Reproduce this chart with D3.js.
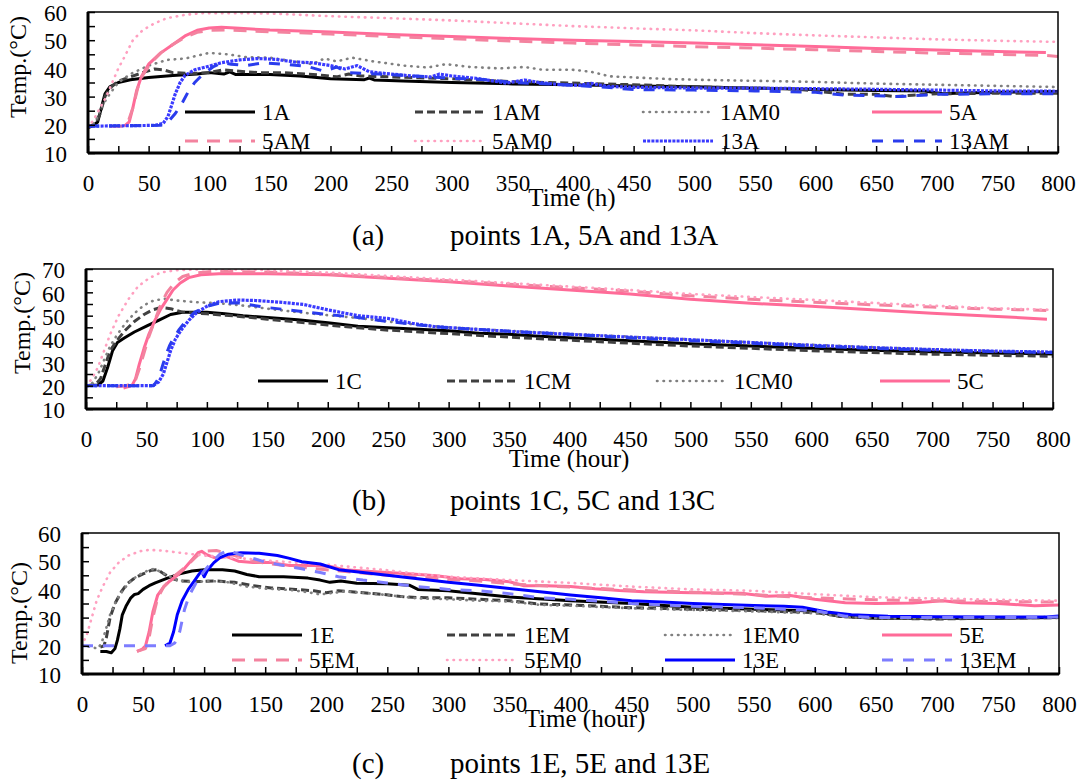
<!DOCTYPE html>
<html>
<head>
<meta charset="utf-8">
<script src="https://cdn.jsdelivr.net/npm/d3@7"></script>
<style>
  body { margin:0; background:#fff; }
  text { font-family: "Liberation Serif", "Times New Roman", serif; fill:#000; }
</style>
</head>
<body>
<svg id="chart" width="1080" height="782"></svg>
<script>
// ---- data: [time (h), temperature (°C)] ----
var A_1A = [[0,19],[5,20],[8,21],[11,26],[14,31],[18,33.5],[25,35],[35,36],[50,36.8],[70,37.5],[90,38],[100,38.5],[112,38],[117,38.8],[122,37.8],[150,37.8],[175,37.3],[200,36.3],[228,36],[232,36.6],[236,35.9],[260,35.5],[300,35],[350,34.5],[400,34.2],[450,33.8],[500,33.5],[550,33],[600,32.5],[650,32.2],[690,32],[705,31],[720,31.3],[750,31.5],[800,31.8]];
var A_1AM = [[0,19],[6,20],[10,24],[14,30],[18,33],[25,35.5],[35,37],[45,38.5],[55,39.8],[62,39.5],[70,38.5],[85,38.2],[100,38.5],[112,39.5],[125,39],[140,38.5],[160,38.5],[180,38],[195,37.5],[205,37],[215,38],[225,37.3],[250,37],[300,36.3],[350,35.3],[400,34.8],[450,34.2],[500,33.5],[550,33],[580,32.8],[600,32],[625,30.8],[650,30.8],[665,30],[680,30.5],[700,31],[750,31.2],[800,31.2]];
var A_1AM0 = [[0,19],[6,21],[12,27],[18,31],[25,35],[35,38],[50,41],[65,43],[80,43.5],[90,44.5],[100,45.5],[115,45],[130,44],[150,43.8],[170,42.5],[185,41.5],[195,43.5],[205,42.5],[218,43.8],[235,42.5],[260,41],[280,40.3],[295,41.5],[315,40.5],[340,40],[360,40.5],[375,39.5],[400,39.5],[415,38.8],[430,37.2],[450,36.8],[480,36.2],[510,35.9],[550,35.6],[600,35.2],[650,34.6],[700,34.2],[750,33.8],[800,33.4]];
var A_5A = [[30,19.5],[34,21],[37,26],[40,32],[44,37],[50,41.5],[60,45.5],[70,48.5],[80,51.5],[90,53.5],[100,54.3],[110,54.6],[125,54.2],[150,53.6],[200,52.9],[250,52],[300,51.3],[350,50.6],[400,50],[450,49.5],[500,49],[550,48.4],[600,47.8],[650,47.1],[700,46.5],[750,46],[790,45.6]];
var A_5AM = [[18,19.5],[28,19.5],[33,21],[37,26],[41,33],[45,37.5],[52,42],[60,45.5],[70,48.5],[80,51],[90,52.8],[100,53.5],[115,53.6],[150,53],[200,52.2],[250,51.3],[300,50.5],[350,49.7],[400,49],[450,48.3],[500,47.7],[550,47.2],[600,46.6],[650,46],[700,45.4],[750,45],[790,44.6],[800,44.2]];
var A_5AM0 = [[0,19],[5,22],[10,26],[15,30],[20,35],[25,40],[30,44],[37,50],[45,53.5],[55,56],[65,57.8],[80,59],[95,59.6],[150,59.5],[200,58.5],[250,57.8],[300,57],[350,56],[400,55],[450,54.2],[500,53.5],[550,52.5],[600,51.7],[650,51],[700,50.3],[750,49.8],[800,49.4]];
var A_13A = [[0,19.5],[55,19.8],[62,20.5],[66,23],[69,27],[72,31],[76,35],[80,37.5],[88,39.5],[100,40.8],[110,42],[125,43],[140,43.5],[155,43.2],[170,42.3],[185,42],[200,41],[212,39.8],[222,41],[232,38.8],[250,38],[270,37.2],[283,37],[290,38],[300,37.3],[320,36.5],[345,34.8],[360,35.9],[372,35],[390,34.2],[405,34],[415,34.7],[428,33.6],[450,33.3],[500,33],[550,33],[600,32.8],[650,32.6],[700,32.3],[750,32],[800,31.9]];
var A_13AM = [[0,19.5],[60,19.8],[66,21],[72,24],[78,28],[83,32],[88,35],[95,38],[103,40.5],[110,42],[118,41.5],[130,41],[145,42],[160,41.5],[180,40.8],[195,39],[205,40.5],[215,38.5],[240,38],[270,37.3],[300,36.5],[330,36],[350,35],[380,34.5],[400,34],[430,33.2],[450,32.5],[500,32.3],[550,32],[600,31.5],[625,30.5],[650,30.3],[670,30],[700,30.8],[750,31],[800,31]];

var B_1C = [[0,20],[10,20.3],[14,22],[18,28],[22,35],[26,38.5],[32,40.5],[40,43],[50,45.5],[60,48],[70,50.5],[80,51.5],[100,51.5],[115,50.8],[130,50],[150,49.2],[175,48.3],[200,47],[225,45.5],[250,44.8],[275,44.2],[300,43.5],[325,42.5],[350,42],[375,41.2],[400,40.5],[450,39.2],[500,38],[550,37],[600,36],[650,35.2],[700,34.5],[750,34],[800,33.6]];
var B_1CM = [[0,20],[8,20.5],[12,23],[16,29],[20,35],[25,39],[32,43.5],[40,47.5],[48,50.5],[55,52.5],[62,53.5],[70,53],[80,51.5],[100,50.8],[125,49.8],[150,48.5],[175,47.3],[200,46],[225,44.8],[250,43.8],[300,42.3],[350,40.8],[400,39.5],[450,38.2],[500,37],[550,36],[600,35],[650,34.2],[700,33.5],[750,33],[800,32.6]];
var B_1CM0 = [[0,20],[5,21],[10,25],[15,31],[20,37],[26,42],[33,47],[40,51],[48,54.5],[56,56.5],[65,57.2],[75,56.5],[90,55.8],[110,55.3],[130,54.3],[150,53],[175,51.5],[200,50.2],[225,49],[250,47.5],[275,46],[300,45],[350,43.5],[400,42.2],[450,41],[500,39.8],[550,38.6],[600,37.5],[650,36.5],[700,35.5],[750,34.8],[800,34.2]];
var B_5C = [[31,19],[38,20],[41,23],[44,29],[48,36],[52,42],[57,48],[62,53],[67,57],[72,61],[78,64],[85,66.3],[95,67.5],[110,68],[150,68],[200,67.5],[250,66],[300,64.5],[350,62.7],[400,61],[450,59.3],[500,57],[550,55.3],[600,54],[650,52.5],[700,51],[750,49.8],[795,48.5]];
var B_5CM = [[25,19.5],[33,20],[40,21],[44,27],[48,34],[52,41],[57,48],[62,55],[67,60],[73,64],[80,66.8],[90,68.3],[105,69],[150,68.7],[200,67.8],[250,66.3],[300,65],[350,63.5],[400,62],[450,60.5],[500,58.5],[550,57],[600,55.8],[650,54.7],[700,53.7],[750,52.8],[800,52.2]];
var B_5CM0 = [[0,20],[5,23],[10,28],[15,35],[20,42],[27,50],[35,57],[43,62.5],[52,66],[62,68.5],[75,69.5],[100,70],[150,69.5],[200,68.5],[250,67],[300,65.5],[350,64],[400,62.5],[450,61],[500,59.3],[550,58],[600,56.8],[650,55.5],[700,54.3],[750,53.2],[800,52.5]];
var B_13C = [[0,20],[55,20],[60,21.5],[64,25],[67,30],[70,35],[74,40],[79,44],[85,48],[92,51.5],[100,54],[110,56],[125,56.7],[140,56.5],[160,55.8],[180,54.8],[200,52.5],[225,50],[250,48.8],[270,46.7],[290,45.2],[320,44.2],[360,43],[400,42],[450,40.8],[500,39.7],[550,38.5],[600,37.3],[650,36.3],[700,35.5],[750,34.8],[800,34.4]];
var B_13CM = [[0,20],[56,20],[60,23],[63,28],[66,33],[69,37],[72,40],[77,44],[83,48],[90,51.5],[100,54],[110,55.3],[125,55.5],[150,53.5],[175,52],[200,50.5],[225,49.2],[250,47.5],[275,46],[300,44.8],[350,43.3],[400,42],[450,40.5],[500,39.3],[550,38.2],[600,37],[650,36],[700,35.2],[750,34.6],[800,34.2]];

var C_1E = [[15,18],[20,18],[24,17.5],[27,19],[29,22],[31,26],[33,31],[36,34],[40,37],[43,38.2],[46,38.5],[50,40],[55,41.3],[60,42.3],[70,44],[80,45.5],[90,46.5],[100,47],[115,47],[125,46.5],[135,45.3],[145,44.5],[165,44.5],[185,44],[195,43.3],[203,42.5],[212,43],[225,42.2],[250,42],[268,41.5],[275,40],[300,39.5],[350,37.3],[400,36],[450,35],[500,33.7],[550,33],[600,32.3],[620,30.5],[650,29.8],[700,29.8],[750,29.8],[800,30]];
var C_1EM = [[15,19.5],[18,20],[20,23],[23,30],[27,35],[32,39],[37,42],[43,44],[50,45.5],[57,46.8],[62,47],[67,45.5],[73,44],[80,43],[95,42.8],[110,43],[125,42.5],[140,41.3],[155,40.5],[175,40],[190,39.5],[200,38.8],[210,39.5],[225,39],[245,38.3],[265,37.3],[285,37],[300,37],[325,36.5],[350,36],[375,34.8],[400,34.5],[450,33.5],[500,33],[550,32.5],[600,31.8],[625,30.3],[650,29.8],[700,29.5],[750,29.8],[800,30]];
var C_1EM0 = [[0,20],[8,19.5],[13,19],[16,21],[19,25],[23,31],[28,36],[34,40],[40,43],[46,45],[53,46.5],[59,47.3],[63,46.5],[70,45],[78,43.3],[90,42.5],[105,43],[120,42.5],[135,41],[150,40.3],[170,39.8],[185,39],[195,38.2],[205,38.7],[215,39.3],[230,38.8],[250,38],[275,36.8],[300,36.5],[325,36],[350,35.7],[375,34.5],[400,34.2],[450,33.3],[500,32.7],[550,32.2],[600,31.5],[625,30.2],[650,29.8],[700,29.8],[750,30],[800,30.2]];
var C_5E = [[45,18],[49,18.7],[52,20],[55,25],[58,32],[62,38],[67,41],[72,43],[78,45],[83,47],[87,49],[91,51],[95,53],[98,53.5],[102,52.3],[110,51],[118,51.7],[128,50],[140,49.5],[155,49.5],[170,48.5],[190,48.5],[205,48],[215,47],[230,46.5],[250,46],[270,45.5],[290,44.8],[310,43.8],[330,43.5],[350,42.7],[362,41.3],[380,41.3],[400,41],[420,40.2],[440,39.6],[460,39.2],[500,38.8],[540,38.6],[560,37.6],[580,37.8],[600,36.5],[625,35.3],[650,35],[680,35.2],[705,36],[720,35.3],[750,35],[780,34.2],[800,34.5]];
var C_5EM = [[45,18],[52,19],[55,23],[58,30],[62,37],[67,41],[75,44.5],[85,48],[92,51],[98,53.5],[110,53.8],[125,52],[140,50],[155,49],[175,48],[200,47],[225,46],[250,45],[275,44.3],[300,43.5],[325,43],[350,42],[400,40.8],[450,39.8],[500,39],[550,38.2],[575,37.5],[600,37],[650,36.3],[700,36],[750,35.7],[800,35.5]];
var C_5EM0 = [[0,20],[4,24],[8,30],[12,36],[17,41],[23,46],[30,49.5],[38,52],[47,53.5],[55,54],[65,53.8],[80,53],[100,52],[125,51.2],[150,50.3],[175,49.5],[200,48.8],[225,47.8],[250,46.8],[275,45.5],[300,44.5],[350,43.3],[400,42.3],[450,41],[500,40],[550,39.5],[600,38.3],[650,37.2],[700,36.8],[750,36.3],[800,36]];
var C_13E = [[68,20],[72,21],[75,25],[78,31],[82,36],[87,40],[92,43],[96,45.5],[98,46.5],[100,44.5],[103,47],[108,49.5],[113,51.3],[120,52.5],[130,53],[145,52.8],[160,52],[170,51],[180,49.8],[195,49],[210,47],[230,46],[250,45],[275,43.8],[300,42.5],[325,41.5],[350,40.3],[375,39.2],[400,38],[425,37],[450,36],[475,35.5],[500,35],[550,34.3],[575,34],[590,33.7],[610,32],[630,31],[660,30.5],[700,30.3],[750,30.2],[790,30.2],[800,30.6]];
var C_13EM = [[0,20],[72,20],[76,21],[80,25],[84,33],[88,38],[93,42],[100,46.5],[107,50],[113,52.5],[120,54],[128,52.5],[140,51],[150,49.7],[165,48.5],[180,47.3],[195,46],[210,44.5],[230,43.3],[250,42.3],[275,41],[300,40],[325,39.5],[350,38.5],[375,37],[400,36.5],[450,35],[500,34],[550,33.5],[600,32.5],[625,30.5],[650,30],[700,30],[750,30],[800,30.2]];

var xTicks = [0,50,100,150,200,250,300,350,400,450,500,550,600,650,700,750,800];
var captions = [["(a)", "points 1A, 5A and 13A"], ["(b)", "points 1C, 5C and 13C"], ["(c)", "points 1E, 5E and 13E"]];
var xTitles = ["Time (h)", "Time (hour)", "Time (hour)"];

// line styles by role
var styles = {
  s1:   {stroke:'#000000', w:3,   dash:null},
  s1M:  {stroke:'#404040', w:3,   dash:'8,4'},
  s1M0: {stroke:'#808080', w:2.6, dash:'0.5,6', cap:'round'},
  s5:   {stroke:'#ff6b98', w:3,   dash:null},
  s5M:  {stroke:'#f3839f', w:3,   dash:'13,9'},
  s5M0: {stroke:'#ffa0c0', w:2.6, dash:'0.5,6', cap:'round'},
  s13:  {stroke:'#3a3aff', w:3.2, dash:'3,1.2'},
  s13M: {stroke:'#2a3ced', w:3,   dash:'11,10'},
  s13E: {stroke:'#0000ff', w:3,   dash:null},
  s13EM:{stroke:'#7d7dff', w:3,   dash:'11,10'}
};

var panels = [
  {box:{l:88,t:12,r:1058,b:153}, ydom:[10,60], ylab:{x:26,y:67}, xt:{x:572,y:206}, cap:245,
   series:[['1A',A_1A,'s1'],['1AM',A_1AM,'s1M'],['1AM0',A_1AM0,'s1M0'],['5A',A_5A,'s5'],['5AM',A_5AM,'s5M'],['5AM0',A_5AM0,'s5M0'],['13A',A_13A,'s13'],['13AM',A_13AM,'s13M']],
   legend:{cols:[185,415,643,872], rows:[112,141], names:['1A','1AM','1AM0','5A','5AM','5AM0','13A','13AM']}},
  {box:{l:86,t:269,r:1053,b:409}, ydom:[10,70], ylab:{x:30,y:323}, xt:{x:569,y:467}, cap:510,
   series:[['1C',B_1C,'s1'],['1CM',B_1CM,'s1M'],['1CM0',B_1CM0,'s1M0'],['5C',B_5C,'s5'],['5CM',B_5CM,'s5M'],['5CM0',B_5CM0,'s5M0'],['13C',B_13C,'s13'],['13CM',B_13CM,'s13M']],
   legend:{cols:[258,447,657,880], rows:[381], names:['1C','1CM','1CM0','5C']}},
  {box:{l:82,t:533,r:1059,b:674}, ydom:[10,60], ylab:{x:27,y:613}, xt:{x:585,y:727}, cap:773,
   series:[['1E',C_1E,'s1'],['1EM',C_1EM,'s1M'],['1EM0',C_1EM0,'s1M0'],['5E',C_5E,'s5'],['5EM',C_5EM,'s5M'],['5EM0',C_5EM0,'s5M0'],['13E',C_13E,'s13E'],['13EM',C_13EM,'s13EM']],
   legend:{cols:[232,447,665,882], rows:[635,660], names:['1E','1EM','1EM0','5E','5EM','5EM0','13E','13EM']}}
];

var svg = d3.select('#chart');

function applyStyle(sel, st) {
  sel.attr('fill','none')
     .attr('stroke', st.stroke)
     .attr('stroke-width', st.w)
     .attr('stroke-linecap', st.cap || 'butt')
     .attr('stroke-linejoin','round');
  if (st.dash) sel.attr('stroke-dasharray', st.dash);
}

panels.forEach(function(p, i) {
  var b = p.box;
  var x = d3.scaleLinear().domain([0,800]).range([b.l, b.r]);
  var y = d3.scaleLinear().domain(p.ydom).range([b.b, b.t]);
  var g = svg.append('g');

  g.append('clipPath').attr('id','clip'+i)
    .append('rect').attr('x',b.l).attr('y',b.t).attr('width',b.r-b.l).attr('height',b.b-b.t);

  var line = d3.line().x(function(d){return x(d[0]);}).y(function(d){return y(d[1]);});

  var lines = g.append('g').attr('clip-path','url(#clip'+i+')');
  p.series.forEach(function(s) {
    applyStyle(lines.append('path').datum(s[1]).attr('d', line), styles[s[2]]);
  });

  // frame
  g.append('rect').attr('x',b.l).attr('y',b.t).attr('width',b.r-b.l).attr('height',b.b-b.t)
    .attr('fill','none').attr('stroke','#000').attr('stroke-width',1.5);

  // x axis: labels every 50, inward ticks every 25
  var minorX = d3.range(0, 801, 25);
  var gx = g.append('g').attr('transform','translate(0,'+b.b+')')
    .call(d3.axisBottom(x).tickValues(minorX).tickSize(-7).tickPadding(22)
      .tickFormat(function(d){ return xTicks.indexOf(d) >= 0 ? d : ''; }));
  gx.selectAll('.tick line').attr('stroke-width',1.5);
  gx.selectAll('text').attr('font-size',23).style('font-family','"Liberation Serif", serif');

  // y axis: labels every 10, inward ticks every 5
  var minorY = d3.range(p.ydom[0], p.ydom[1]+0.1, 5);
  var gy = g.append('g').attr('transform','translate('+b.l+',0)')
    .call(d3.axisLeft(y).tickValues(minorY).tickSize(-7).tickPadding(21)
      .tickFormat(function(d){ return d % 10 === 0 ? d : ''; }));
  gy.selectAll('.tick line').attr('stroke-width',1.5);
  gy.selectAll('text').attr('font-size',23).attr('dy','0.38em').style('font-family','"Liberation Serif", serif');
  gx.selectAll('.domain').attr('d', 'M'+b.l+',0H'+b.r).attr('stroke-width',3);
  gy.selectAll('.domain').attr('d', 'M0,'+b.b+'V'+b.t).attr('stroke-width',3);

  // titles
  g.append('text').text('Temp.(°C)')
    .attr('transform','translate('+p.ylab.x+','+p.ylab.y+') rotate(-90)')
    .attr('text-anchor','middle').attr('font-size',24);
  g.append('text').text(xTitles[i])
    .attr('x',p.xt.x).attr('y',p.xt.y).attr('text-anchor','middle').attr('font-size',25);
  g.append('text').text(captions[i][0]).attr('x',352).attr('y',p.cap).attr('font-size',29);
  g.append('text').text(captions[i][1]).attr('x',450).attr('y',p.cap).attr('font-size',29);

  // legend
  var lg = g.append('g');
  p.legend.names.forEach(function(name, k) {
    var s = p.series.filter(function(d){ return d[0] === name; })[0];
    var cx = p.legend.cols[k % p.legend.cols.length];
    var cy = p.legend.rows[Math.floor(k / p.legend.cols.length)];
    applyStyle(lg.append('line').attr('x1',cx).attr('x2',cx+70).attr('y1',cy).attr('y2',cy), styles[s[2]]);
    lg.append('text').text(name).attr('x',cx+77).attr('y',cy+8).attr('font-size',23);
  });
});
</script>
</body>
</html>
